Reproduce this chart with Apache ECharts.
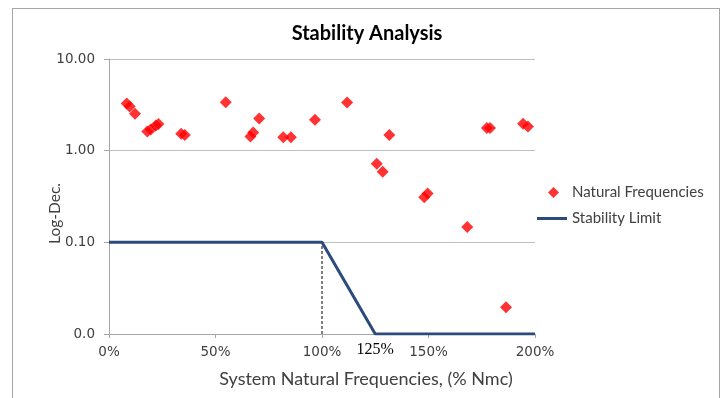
<!DOCTYPE html>
<html>
<head>
<meta charset="utf-8">
<script src="https://cdn.jsdelivr.net/npm/echarts@6/dist/echarts.min.js"></script>
<style>
  html, body { margin: 0; padding: 0; background: #fff; }
  #chart { width: 725px; height: 398px; }
  #frame { position: absolute; left: 12px; top: 8px; width: 708px; height: 400px; border: 1px solid #a6a6a6; box-sizing: border-box; pointer-events: none; }
</style>
</head>
<body>
<div id="chart"></div>
<div id="frame"></div>
<script>
// Measured natural frequencies (% of Nmc) and their logarithmic decrements
const freqPct = [8.3, 9.7, 12.2, 18.0, 19.6, 22.0, 23.2, 33.9, 35.6, 54.8, 66.4, 67.7, 70.5, 81.8, 85.4, 96.7, 111.8, 125.7, 128.5, 131.6, 148.0, 149.6, 168.2, 177.4, 178.9, 186.4, 194.4, 196.7];
const logDec  = [3.26, 3.03, 2.53, 1.62, 1.70, 1.88, 1.95, 1.53, 1.48, 3.37, 1.43, 1.58, 2.25, 1.40, 1.40, 2.18, 3.35, 0.72, 0.59, 1.48, 0.31, 0.34, 0.147, 1.77, 1.77, 0.0196, 1.97, 1.83];

// Stability limit envelope
const limitPct = [0, 100, 125, 200];
const limitDec = [0.1, 0.1, 0.01, 0.01];

// Marker for the 100% knee
const kneePct = [100, 100];
const kneeDec = [0.01, 0.1];

// Axis tick labels
const xTicks = [0, 50, 100, 125, 150, 200];
const yTickLabels = ['0.0', '0.10', '1.00', '10.00']; // for 1e-2 .. 1e1

const chart = echarts.init(document.getElementById('chart'));
const txt = '#404040';
const font = 'Lato';
const legendText = { fontFamily: font, fontSize: 15, color: txt };

chart.setOption({
  animation: false,
  title: {
    text: 'Stability Analysis',
    left: 362, top: 19, textAlign: 'center',
    textStyle: { fontFamily: font, fontSize: 20, fontWeight: 'bold', color: '#000' }
  },
  legend: [
    {
      left: 548, top: 185, padding: 0, itemWidth: 11, itemHeight: 11,
      textStyle: Object.assign({ padding: [0, 0, 0, 8] }, legendText),
      data: [{ name: 'Natural Frequencies', icon: 'diamond', itemStyle: { color: '#ff0000' } }]
    },
    {
      left: 537, top: 211, padding: 0, itemWidth: 30, itemHeight: 3,
      textStyle: legendText,
      data: [{ name: 'Stability Limit', icon: 'rect', itemStyle: { color: '#2a4b7c' } }]
    }
  ],
  grid: { left: 109, right: 190, top: 59, bottom: 64 },
  xAxis: {
    type: 'value', min: 0, max: 200, interval: 50,
    name: 'System Natural Frequencies, (% Nmc)',
    nameLocation: 'middle', nameGap: 36,
    nameTextStyle: { fontFamily: font, fontSize: 18, color: txt, padding: [0, 0, 0, 88] },
    axisLine: { lineStyle: { color: '#a6a6a6' } },
    axisTick: { show: true, length: 4, lineStyle: { color: '#a6a6a6' } },
    splitLine: { show: false },
    axisLabel: {
      customValues: xTicks,
      margin: 11,
      fontFamily: 'DejaVu Sans', fontSize: 13.5, color: txt,
      formatter: v => v === 125 ? '{k|' + v + '%}' : v + '%',
      rich: { k: { fontFamily: 'Liberation Serif', fontSize: 16, lineHeight: 9, color: '#000' } }
    }
  },
  yAxis: {
    type: 'log', logBase: 10, min: 0.01, max: 10,
    name: 'Log-Dec.', nameLocation: 'middle', nameGap: 46, nameRotate: 90,
    nameMoveOverlap: false,
    nameTextStyle: { fontFamily: font, fontSize: 15.5, color: txt, padding: [0, 34, 0, 0] },
    axisLine: { show: true, lineStyle: { color: '#a6a6a6' } },
    axisTick: { show: true, length: 5, lineStyle: { color: '#a6a6a6' } },
    splitLine: { show: true, lineStyle: { color: '#bfbfbf' } },
    minorTick: { show: false },
    axisLabel: {
      margin: 14, fontFamily: 'DejaVu Sans', fontSize: 13.5, color: txt,
      formatter: v => yTickLabels[Math.round(Math.log10(v)) + 2]
    }
  },
  series: [
    {
      name: 'Natural Frequencies', type: 'scatter', symbol: 'diamond', symbolSize: 12,
      itemStyle: { color: '#ff0000' },
      data: freqPct.map((x, i) => [x, logDec[i]]), z: 5
    },
    {
      name: 'Stability Limit', type: 'line', symbol: 'none',
      lineStyle: { color: '#2a4b7c', width: 3 }, itemStyle: { color: '#2a4b7c' },
      data: limitPct.map((x, i) => [x, limitDec[i]]), z: 4
    },
    {
      name: 'knee', type: 'line', symbol: 'none', silent: true,
      lineStyle: { color: '#000', width: 1, type: [3, 2] },
      data: kneePct.map((x, i) => [x, kneeDec[i]]), z: 3
    }
  ]
});
</script>
</body>
</html>
